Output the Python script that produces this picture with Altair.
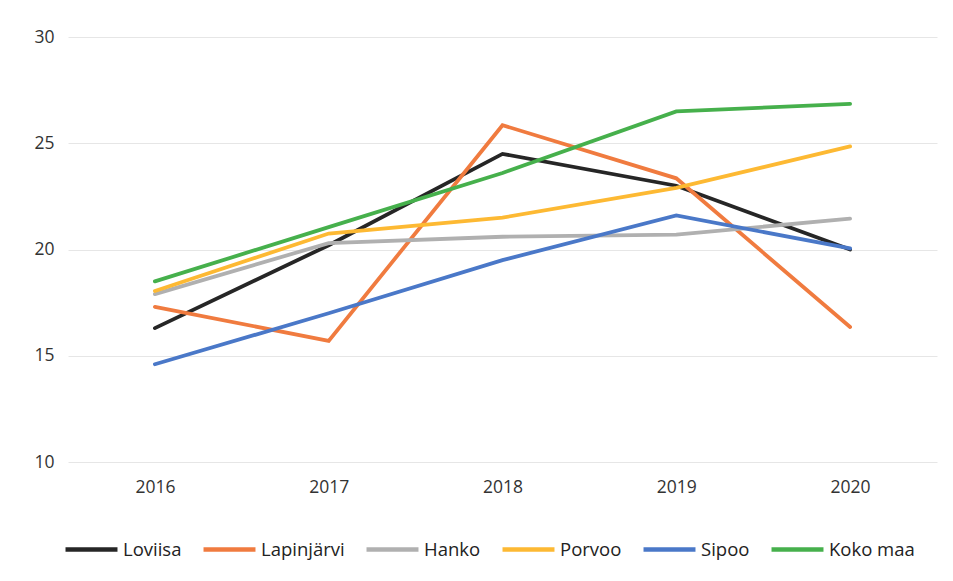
import altair as alt
import pandas as pd

years = ["2016", "2017", "2018", "2019", "2020"]
series_names = ["Loviisa", "Lapinjärvi", "Hanko", "Porvoo", "Sipoo", "Koko maa"]
loviisa = [16.3, 20.2, 24.5, 23.0, 20.0]
lapinjarvi = [17.3, 15.7, 25.85, 23.35, 16.35]
hanko = [17.9, 20.3, 20.6, 20.7, 21.45]
porvoo = [18.05, 20.75, 21.5, 22.9, 24.85]
sipoo = [14.6, 17.0, 19.5, 21.6, 20.05]
koko_maa = [18.5, 21.05, 23.6, 26.5, 26.85]
colors = ["#262626", "#F07B3F", "#B0B0B0", "#FDB933", "#4A78C8", "#46B04C"]

rows = []
for name, vals in zip(series_names, [loviisa, lapinjarvi, hanko, porvoo, sipoo, koko_maa]):
    for y, v in zip(years, vals):
        rows.append({"Vuosi": y, "Arvo": v, "Sarja": name, "o": series_names.index(name)})
df = pd.DataFrame(rows)

FONT = "Open Sans"

chart = alt.Chart(df).mark_line(strokeWidth=3.8, strokeCap="round", strokeJoin="miter").encode(
    x=alt.X("Vuosi:N", sort=years, title=None,
            scale=alt.Scale(type="point", padding=0.5),
            axis=alt.Axis(labelAngle=0, domain=False, ticks=False, grid=False, labelPadding=16,
                          labelFontSize=17.5, labelColor="#333333", labelFont=FONT)),
    y=alt.Y("Arvo:Q", title=None,
            scale=alt.Scale(domain=[10, 30], nice=False, zero=False),
            axis=alt.Axis(values=[10, 15, 20, 25, 30], domain=False, ticks=False,
                          labelPadding=14, labelFontSize=17.5, labelColor="#333333",
                          labelFont=FONT, gridColor="#E6E6E6", gridWidth=1)),
    color=alt.Color("Sarja:N", sort=series_names,
                    scale=alt.Scale(domain=series_names, range=colors),
                    legend=alt.Legend(title=None, orient="none", direction="horizontal",
                                      legendX=-5, legendY=484,
                                      symbolType="stroke", symbolSize=2700,
                                      symbolStrokeWidth=4.5, labelFontSize=18.5,
                                      labelFont=FONT, labelColor="#222222",
                                      labelOffset=3, columnPadding=12,
                                      labelLimit=200)),
    order=alt.Order("o:Q"),
).properties(
    width=869, height=425,
    autosize=alt.AutoSizeParams(type="none"),
    padding={"left": 60, "top": 29, "right": 8, "bottom": 119},
    background="white",
).configure_view(stroke=None)

chart.save("out.html", embed_options={"renderer": "svg", "actions": False})
